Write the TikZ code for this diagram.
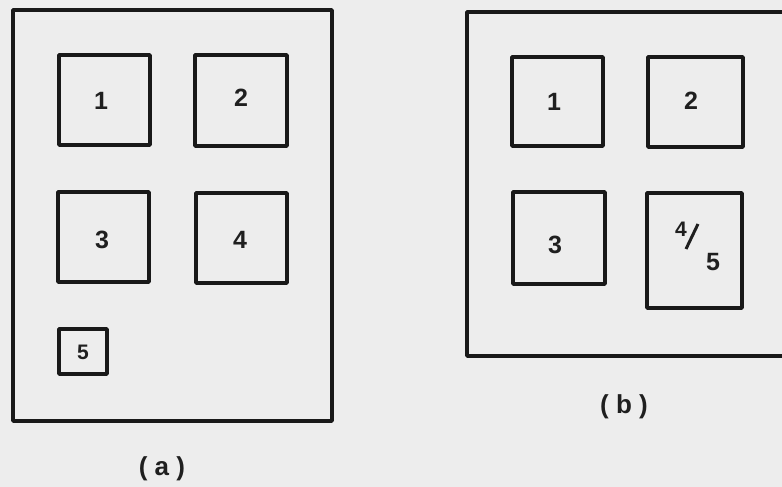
\documentclass[tikz,border=0pt]{standalone}
\usepackage{fontspec}
\setmainfont{Liberation Sans}
\begin{document}
\begin{tikzpicture}[x=1pt,y=-1pt,
  frame/.style={draw=black!90,line width=3.4pt,line join=round},
  unit/.style={draw=black!90,line width=3.6pt,line join=round},
  num/.style={font=\fontsize{25}{25}\selectfont\bfseries,text=black!88,inner sep=0pt},
  smallnum/.style={font=\fontsize{21}{21}\selectfont\bfseries,text=black!88,inner sep=0pt},
  caption/.style={font=\fontsize{26}{26}\selectfont\bfseries,text=black!88,inner sep=0pt}]
\fill[black!7] (0,0) rectangle (782,487);
\useasboundingbox (0,0) rectangle (782,487);
\begin{scope}
\clip (0,0) rectangle (782,487);

% layout (a)
\draw[frame] (13,10) rectangle (332,421);
\draw[unit] (59,55) rectangle (150,145);
\draw[unit] (195,55) rectangle (287,146);
\draw[unit] (58,192) rectangle (149,282);
\draw[unit] (196,193) rectangle (287,283);
\draw[unit] (59,329) rectangle (107,374);
\node[num] (a1) at (101,101) {1};
\node[num] (a2) at (241,98) {2};
\node[num] (a3) at (102,240) {3};
\node[num] (a4) at (240,240) {4};
\node[smallnum] (a5) at (83,352) {5};
\node[caption] (capa) at (162,469) {( a )};

% layout (b)
\draw[frame] (467,12) rectangle (800,356);
\draw[unit] (512,57) rectangle (603,146);
\draw[unit] (648,57) rectangle (743,147);
\draw[unit] (513,192) rectangle (605,284);
\draw[unit] (647,193) rectangle (742,308);
\node[num] (b1) at (554,102) {1};
\node[num] (b2) at (691,101) {2};
\node[num] (b3) at (555,245) {3};
\node[smallnum] (b4) at (681,229) {4};
\draw[line width=3pt,black!88] (686,249) -- (698,224);
\node[num] (b5) at (713,262) {5};
\node[caption] (capb) at (624,407) {( b )};
\end{scope}
\end{tikzpicture}
\end{document}
